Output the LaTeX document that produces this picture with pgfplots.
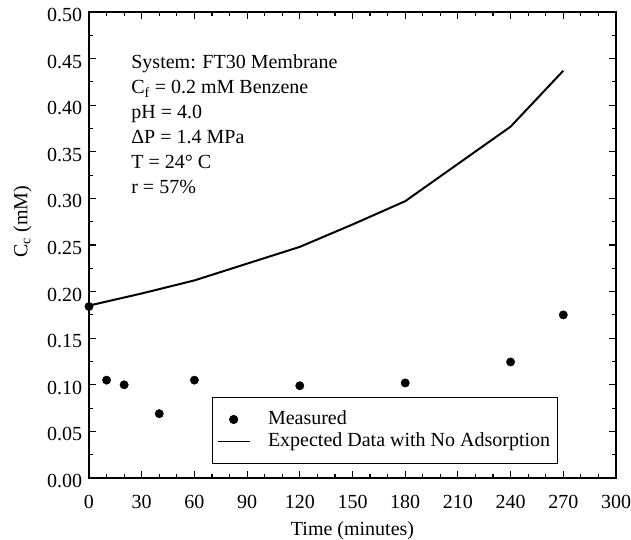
\documentclass[border=0pt]{standalone}
\usepackage{pgfplots}
\pgfplotsset{compat=1.18}
\usetikzlibrary{calc}
\usepackage{fontspec}
\setmainfont{Liberation Serif}
\begin{document}
\fontsize{20bp}{24bp}\selectfont
\begin{tikzpicture}
\begin{axis}[
  scale only axis,
  width=527bp, height=466bp,
  xmin=0, xmax=300, ymin=0, ymax=0.5,
  xtick={0,30,...,300},
  ytick={0,0.05,...,0.51},
  minor x tick num=2,
  minor y tick num=1,
  tick align=inside,
  major tick length=7bp,
  minor tick length=4bp,
  tick style={black, line width=1.2pt},
  axis line style={line width=2.2bp},
  /pgf/number format/assume math mode=true,
  yticklabel style={yshift=-3bp, /pgf/number format/.cd, fixed, fixed zerofill, precision=2},
  xticklabel style={yshift=-10bp, /pgf/number format/.cd, fixed},
  tick label style={font=\fontsize{20bp}{24bp}\selectfont},
  label style={font=\fontsize{20bp}{24bp}\selectfont},
  xlabel={Time (minutes)},
  ylabel={C\textsubscript{c} (mM)},
  ylabel style={at={(ticklabel cs:0.55)}, yshift=2bp},
  legend style={at={(axis cs:70,0.0867)}, anchor=north west, draw=black, line width=0.7pt,
    font=\fontsize{20bp}{24bp}\selectfont, row sep=1bp, inner xsep=5bp, inner ysep=11.5bp},
  legend cell align=left,
]
\addplot[only marks, mark=*, mark size=4.2bp, black,
  legend image code/.code={\draw[mark repeat=2, mark phase=2] plot coordinates {(0bp,0bp) (16bp,0bp) (32bp,0bp)};}] coordinates {
(0,0.184) (10,0.105) (20,0.100) (40,0.069) (60,0.105) (120,0.099) (180,0.102) (240,0.1245) (270,0.175)
};
\addlegendentry{\hspace{16bp}Measured}
\addplot[black, line width=2bp, mark=none, forget plot] coordinates {
(0,0.185) (30,0.198) (60,0.212) (90,0.230) (120,0.248) (150,0.272) (180,0.297) (240,0.377) (270,0.437)
};
\addlegendimage{black, line width=0.7pt, legend image code/.code={\draw (0bp,0bp) -- (32bp,0bp);}}
\addlegendentry{\hspace{16bp}Expected Data with No Adsorption\hspace{37bp}}
\node[anchor=north west, align=left, inner sep=0pt, font=\fontsize{20bp}{25bp}\selectfont] at (axis cs:24,0.454) {System: FT30 Membrane\\C\textsubscript{f} = 0.2 mM Benzene\\pH = 4.0\\ΔP = 1.4 MPa\\T = 24° C\\r = 57\%};
\end{axis}
\pgfresetboundingbox
\path ($(current axis.south west)+(-89bp,-62bp)$) rectangle ($(current axis.north east)+(15bp,12bp)$);
\end{tikzpicture}
\end{document}
